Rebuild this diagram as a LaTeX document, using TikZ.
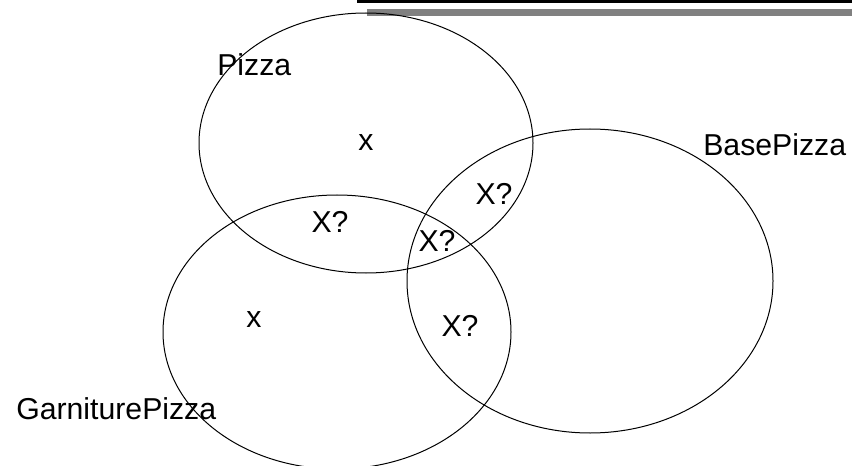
\documentclass[tikz,border=0pt]{standalone}
\usepackage{fontspec}
\setmainfont{Liberation Sans}
\usetikzlibrary{positioning}
\def\vennfont{\fontsize{21.5}{25}\selectfont}
\tikzset{setname/.style={font=\vennfont, inner sep=0pt, anchor=base west},
	member/.style={font=\vennfont, inner sep=0pt}}

\begin{document}
\begin{tikzpicture}
			%%%%% START %%%%%
			\useasboundingbox (0, 0) rectangle (21.3, 11.625);
			
			\draw[fill=black, draw=none] (8.925, 11.55) rectangle (21.3, 11.625);
			\draw[fill=black!50, draw=none] (9.175, 11.225) rectangle (21.3, 11.4);
			
			\draw[line width=0.25mm] (9.15, 8.05) ellipse (4.175 and 3.25);
			\draw[line width=0.25mm] (8.425, 3.325) ellipse (4.35 and 3.425);
			\draw[line width=0.25mm] (14.75, 4.6) ellipse (4.575 and 3.8);
			
			\node[setname] (pizza) at (5.425, 9.725) {Pizza};
			\node[setname] (base) at (17.575, 7.725) {BasePizza};
			\node[setname] (garniture) at (0.4, 1.15) {GarniturePizza};
			
			\node[member] (xpizza) at (9.15, 8.05) {x};
			\node[member] (xgarniture) at (6.35, 3.625) {x};
			
			\node[member] (pg) at (8.25, 6.075) {X?};
			\node[member] (pb) at (12.35, 6.775) {X?};
			\node[member] (pgb) at (10.925, 5.6) {X?};
			\node[member] (gb) at (11.5, 3.475) {X?};
			
			%%%%% END %%%%%
\end{tikzpicture}
\end{document}
